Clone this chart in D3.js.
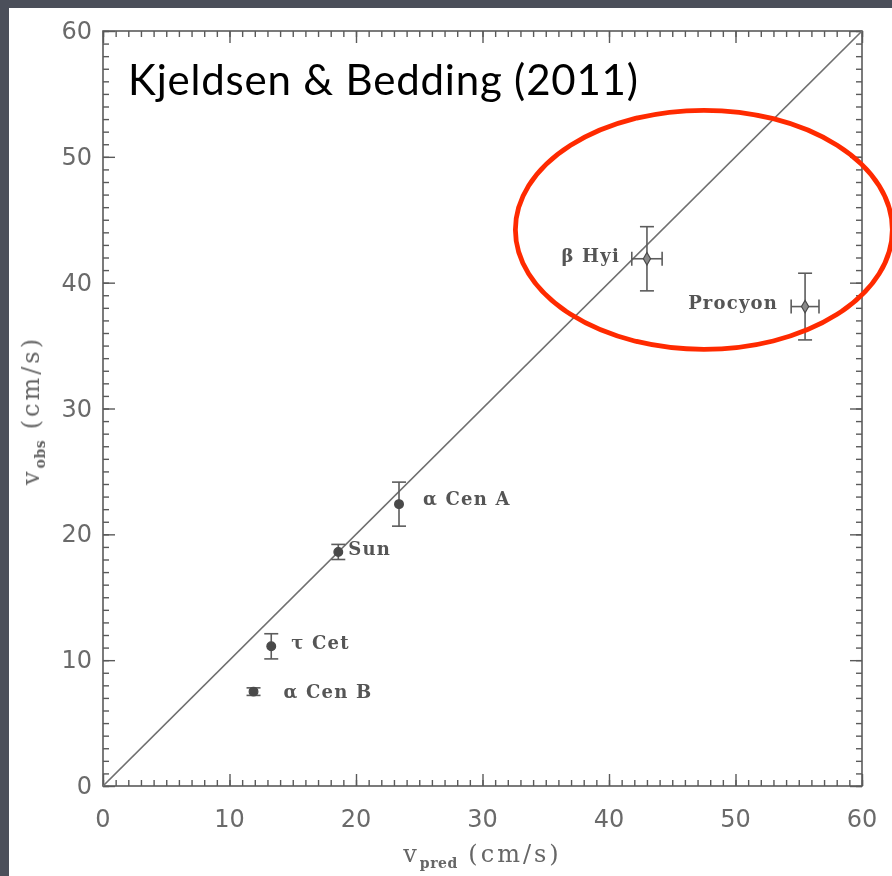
<!DOCTYPE html>
<html>
<head>
<meta charset="utf-8">
<script src="https://cdn.jsdelivr.net/npm/d3@7"></script>
<style>
  html, body { margin: 0; padding: 0; background: #4b4f5a; }
  svg { display: block; }
</style>
</head>
<body>
<svg id="chart" width="892" height="876"></svg>
<script>
// Stars with predicted and observed oscillation velocity amplitudes (cm/s)
const stars    = ["β Hyi", "Procyon", "α Cen A", "Sun", "τ Cet", "α Cen B"];
const vPred    = [43.0, 55.5, 23.4, 18.6, 13.3, 11.9];
const vPredErr = [1.2, 1.1, 0, 0, 0, 0];
const vObs     = [41.9, 38.1, 22.4, 18.6, 11.1, 7.5];
const vObsErr  = [2.55, 2.65, 1.75, 0.6, 1.0, 0.3];

const xTicks = [0, 10, 20, 30, 40, 50, 60];
const yTicks = [0, 10, 20, 30, 40, 50, 60];
const title = "Kjeldsen & Bedding (2011)";

// Highlight ellipse around the two most luminous stars (data units)
const highlight = { cx: 47.5, cy: 44.2, rx: 14.9, ry: 9.5 };

// Label placement relative to each star's marker
const labelStyle = {
  "β Hyi":   { dx: -27, dy: 3, anchor: "end" },
  "Procyon": { dx: -27, dy: 2, anchor: "end" },
  "α Cen A": { dx: 24,  dy: 1, anchor: "start" },
  "Sun":     { dx: 10,  dy: 3, anchor: "start" },
  "τ Cet":   { dx: 20,  dy: 3, anchor: "start" },
  "α Cen B": { dx: 30,  dy: 6, anchor: "start" }
};

const W = 892, H = 876;
const plot = { left: 103, right: 862, top: 31, bottom: 786 };

const svg = d3.select("#chart");

// slide background and white card
svg.append("rect").attr("width", W).attr("height", H).attr("fill", "#4b4f5a");
svg.append("rect").attr("x", 9).attr("y", 8).attr("width", W - 9).attr("height", H - 8).attr("fill", "#ffffff");

const defs = svg.append("defs");
defs.append("filter").attr("id", "soft")
  .append("feGaussianBlur").attr("stdDeviation", 0.55);

const x = d3.scaleLinear().domain([0, 60]).range([plot.left, plot.right]);
const y = d3.scaleLinear().domain([0, 60]).range([plot.bottom, plot.top]);

const g = svg.append("g").attr("filter", "url(#soft)");
const axisColor = "#5a5a5a";
const minor = d3.range(0, 61, 1);

// inward ticks on all four sides
function ticks(axisGen, transform) {
  const a = g.append("g").attr("transform", transform);
  a.call(axisGen);
  a.select(".domain").remove();
  a.selectAll("text").remove();
  a.selectAll("line").attr("stroke", axisColor).attr("stroke-width", 1.4);
}
ticks(d3.axisTop(x).tickValues(minor).tickSizeInner(6).tickSizeOuter(0), `translate(0,${plot.bottom})`);
ticks(d3.axisTop(x).tickValues(xTicks).tickSizeInner(12).tickSizeOuter(0), `translate(0,${plot.bottom})`);
ticks(d3.axisBottom(x).tickValues(minor).tickSizeInner(6).tickSizeOuter(0), `translate(0,${plot.top})`);
ticks(d3.axisBottom(x).tickValues(xTicks).tickSizeInner(12).tickSizeOuter(0), `translate(0,${plot.top})`);
ticks(d3.axisRight(y).tickValues(minor).tickSizeInner(6).tickSizeOuter(0), `translate(${plot.left},0)`);
ticks(d3.axisRight(y).tickValues(yTicks).tickSizeInner(12).tickSizeOuter(0), `translate(${plot.left},0)`);
ticks(d3.axisLeft(y).tickValues(minor).tickSizeInner(6).tickSizeOuter(0), `translate(${plot.right},0)`);
ticks(d3.axisLeft(y).tickValues(yTicks).tickSizeInner(12).tickSizeOuter(0), `translate(${plot.right},0)`);

// frame
g.append("rect")
  .attr("x", plot.left).attr("y", plot.top)
  .attr("width", plot.right - plot.left).attr("height", plot.bottom - plot.top)
  .attr("fill", "none").attr("stroke", axisColor).attr("stroke-width", 1.6);

// tick labels
const tickFont = "'DejaVu Sans', sans-serif";
g.append("g").selectAll("text").data(xTicks).join("text")
  .attr("x", d => x(d)).attr("y", plot.bottom + 41)
  .attr("text-anchor", "middle")
  .attr("font-family", tickFont).attr("font-size", 24).attr("fill", "#6a6a6a")
  .text(d => d);
g.append("g").selectAll("text").data(yTicks).join("text")
  .attr("x", plot.left - 11).attr("y", d => y(d) + 8)
  .attr("text-anchor", "end")
  .attr("font-family", tickFont).attr("font-size", 24).attr("fill", "#6a6a6a")
  .text(d => d);

// axis titles
const serif = "'DejaVu Serif', 'Liberation Serif', serif";
const xl = g.append("text")
  .attr("x", x(30)).attr("y", 862)
  .attr("text-anchor", "middle")
  .attr("font-family", serif).attr("font-size", 24).attr("fill", "#666")
  .attr("letter-spacing", 3);
xl.append("tspan").text("v");
xl.append("tspan").attr("dy", 6).attr("font-size", 14).attr("font-weight", "bold").attr("letter-spacing", 0.5).text("pred");
xl.append("tspan").attr("dy", -6).text(" (cm/s)");

const yl = g.append("text")
  .attr("transform", `translate(39,${y(30) + 2}) rotate(-90)`)
  .attr("text-anchor", "middle")
  .attr("font-family", serif).attr("font-size", 24).attr("fill", "#666")
  .attr("letter-spacing", 3);
yl.append("tspan").text("v");
yl.append("tspan").attr("dy", 6).attr("font-size", 14).attr("font-weight", "bold").attr("letter-spacing", 0.5).text("obs");
yl.append("tspan").attr("dy", -6).text(" (cm/s)");

// one-to-one line
g.append("line")
  .attr("x1", x(0)).attr("y1", y(0)).attr("x2", x(60)).attr("y2", y(60))
  .attr("stroke", "#6f6f6f").attr("stroke-width", 1.6);

// error bars and markers
const pts = stars.map((s, i) => ({ s, xv: vPred[i], xe: vPredErr[i], yv: vObs[i], ye: vObsErr[i] }));
const cap = 7;
const eb = g.append("g").attr("stroke", "#5c5c5c").attr("stroke-width", 1.6).attr("fill", "none");
pts.forEach(p => {
  const px = x(p.xv), py = y(p.yv);
  if (p.ye > 0) {
    eb.append("line").attr("x1", px).attr("x2", px).attr("y1", y(p.yv - p.ye)).attr("y2", y(p.yv + p.ye));
    [p.yv - p.ye, p.yv + p.ye].forEach(v =>
      eb.append("line").attr("x1", px - cap).attr("x2", px + cap).attr("y1", y(v)).attr("y2", y(v)));
  }
  if (p.xe > 0) {
    eb.append("line").attr("y1", py).attr("y2", py).attr("x1", x(p.xv - p.xe)).attr("x2", x(p.xv + p.xe));
    [p.xv - p.xe, p.xv + p.xe].forEach(v =>
      eb.append("line").attr("y1", py - cap).attr("y2", py + cap).attr("x1", x(v)).attr("x2", x(v)));
  }
});
g.append("g").selectAll("path").data(pts).join("path")
  .attr("transform", d => `translate(${x(d.xv)},${y(d.yv)})`)
  .attr("d", d => d.xe > 0 ? d3.symbol(d3.symbolDiamond, 45)() : d3.symbol(d3.symbolCircle, 60)())
  .attr("fill", d => d.xe > 0 ? "#8a8a8a" : "#4a4a4a")
  .attr("stroke", "#4a4a4a").attr("stroke-width", 1.2);

// star names
g.append("g").selectAll("text").data(pts).join("text")
  .attr("x", d => x(d.xv) + labelStyle[d.s].dx)
  .attr("y", d => y(d.yv) + labelStyle[d.s].dy)
  .attr("text-anchor", d => labelStyle[d.s].anchor)
  .attr("font-family", serif).attr("font-size", 18).attr("font-weight", "bold")
  .attr("letter-spacing", 1.2).attr("fill", "#555")
  .text(d => d.s);

// citation title, sized to span its box
const t = svg.append("text")
  .attr("x", 128).attr("y", 95)
  .attr("font-family", "Lato, 'Open Sans', sans-serif").attr("font-size", 37)
  .attr("fill", "#000")
  .text(title);
const target = 510;
const tw = t.node().getComputedTextLength();
const fs = Math.min(42, 37 * target / tw);
t.attr("font-size", fs);
const tw2 = t.node().getComputedTextLength();
if (tw2 < target) t.attr("letter-spacing", (target - tw2) / (title.length - 1));

// highlight ellipse
svg.append("ellipse")
  .attr("cx", x(highlight.cx)).attr("cy", y(highlight.cy))
  .attr("rx", x(highlight.rx) - x(0)).attr("ry", y(0) - y(highlight.ry))
  .attr("fill", "none").attr("stroke", "#ff2a00").attr("stroke-width", 4.8);
</script>
</body>
</html>
